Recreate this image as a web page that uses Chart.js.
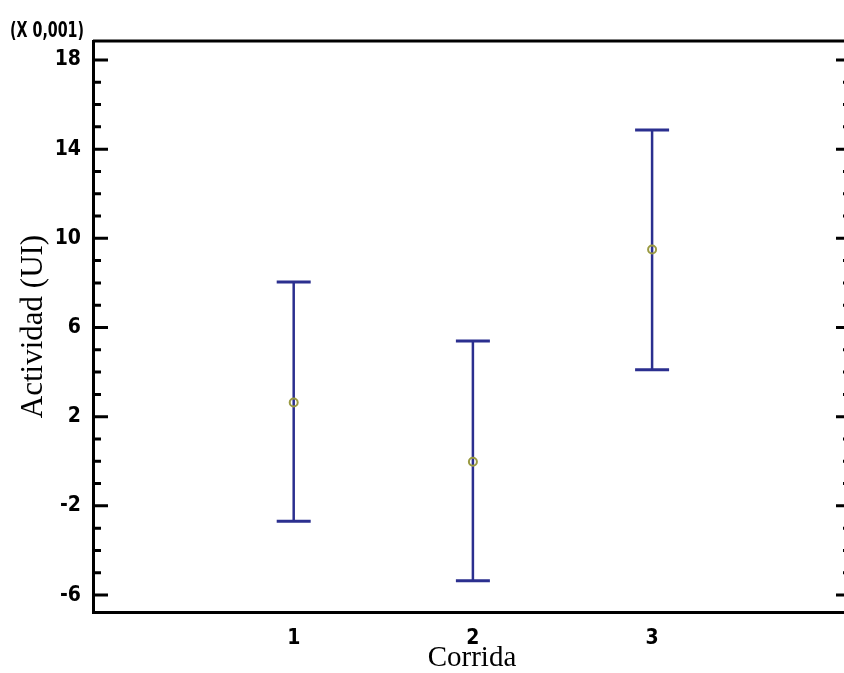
<!DOCTYPE html>
<html>
<head>
<meta charset="utf-8">
<script src="https://cdn.jsdelivr.net/npm/chart.js@4"></script>
<style>
  html, body { margin: 0; padding: 0; background: #fff; overflow: hidden; }
  #wrap { width: 860px; height: 673px; }
</style>
</head>
<body>
<div id="wrap"><canvas id="myChart" width="860" height="673"></canvas></div>
<script>
// data (units x 0,001)
const runs = [1, 2, 3];
const means = [2.64, -0.02, 9.5];
const lower = [-2.69, -5.36, 4.1];
const upper = [8.04, 5.4, 14.86];
const yMajorTicks = [-6, -2, 2, 6, 10, 14, 18];
const yMinorTicks = [-5, -4, -3, -1, 0, 1, 3, 4, 5, 7, 8, 9, 11, 12, 13, 15, 16, 17];

const ctx = document.getElementById("myChart");
const narrow = "'Liberation Sans Narrow', 'DejaVu Sans Condensed', Arial, sans-serif";
const serif = "'Liberation Serif', 'Times New Roman', serif";
const barColor = "#2b2f8f";

// error bars, tick marks, frame and the multiplier label
const extras = {
  id: "extras",
  beforeDatasetsDraw(chart) {
    const c = chart.ctx;
    const x = chart.scales.x;
    const y = chart.scales.y;
    c.save();
    c.strokeStyle = barColor;
    runs.forEach((r, i) => {
      const px = x.getPixelForValue(r);
      const top = y.getPixelForValue(upper[i]);
      const bot = y.getPixelForValue(lower[i]);
      c.lineWidth = 2.5;
      c.beginPath();
      c.moveTo(px, top);
      c.lineTo(px, bot);
      c.stroke();
      c.lineWidth = 3;
      c.beginPath();
      c.moveTo(px - 17, top);
      c.lineTo(px + 17, top);
      c.moveTo(px - 17, bot);
      c.lineTo(px + 17, bot);
      c.stroke();
    });
    c.restore();
  },
  afterDraw(chart) {
    const c = chart.ctx;
    const area = chart.chartArea;
    const y = chart.scales.y;
    c.save();
    c.strokeStyle = "#000";
    c.lineWidth = 3;
    // top and right frame
    c.beginPath();
    c.moveTo(area.left, area.top);
    c.lineTo(area.right, area.top);
    c.lineTo(area.right, area.bottom);
    c.stroke();
    // ticks on both sides, pointing in
    const drawTicks = (vals, len) => {
      vals.forEach((v) => {
        const py = y.getPixelForValue(v);
        c.beginPath();
        c.moveTo(area.left, py);
        c.lineTo(area.left + len, py);
        c.moveTo(area.right, py);
        c.lineTo(area.right - len, py);
        c.stroke();
      });
    };
    drawTicks(yMajorTicks, 15);
    drawTicks(yMinorTicks, 8);
    // multiplier label, squeezed like the narrow original
    c.fillStyle = "#000";
    c.font = "bold 22px " + narrow;
    c.textAlign = "left";
    c.textBaseline = "middle";
    c.translate(10, 31);
    c.scale(0.72, 1);
    c.fillText("(X 0,001)", 0, 0);
    c.restore();
  },
};

const myChart = new Chart(ctx, {
  type: "scatter",
  data: {
    datasets: [
      {
        label: "Media",
        data: runs.map((r, i) => ({ x: r, y: means[i] })),
        pointRadius: 4,
        pointBorderWidth: 2,
        borderColor: "#9a9a42",
        backgroundColor: "rgba(0,0,0,0)",
        clip: false,
      },
    ],
  },
  options: {
    responsive: false,
    animation: false,
    layout: { padding: { top: 41, right: 9, left: 0, bottom: 0 } },
    plugins: { legend: { display: false }, tooltip: { enabled: false } },
    scales: {
      x: {
        type: "linear",
        min: -0.12,
        max: 4.11,
        afterBuildTicks: (scale) => {
          scale.ticks = runs.map((v) => ({ value: v }));
        },
        afterFit: (scale) => {
          scale.height = 61;
        },
        grid: { display: false, drawTicks: false },
        border: { display: true, color: "#000", width: 3 },
        ticks: {
          padding: 14,
          color: "#000",
          font: { family: narrow, size: 21, weight: "bold" },
          callback: (v) => String(v),
        },
        title: {
          display: true,
          text: "Corrida",
          color: "#000",
          font: { family: serif, size: 29, lineHeight: 1 },
          padding: { top: 0, bottom: 0 },
        },
      },
      y: {
        min: -6.76,
        max: 18.85,
        afterBuildTicks: (scale) => {
          scale.ticks = yMajorTicks.map((v) => ({ value: v }));
        },
        afterFit: (scale) => {
          scale.width = 93;
        },
        grid: { display: false, drawTicks: false },
        border: { display: true, color: "#000", width: 3 },
        ticks: {
          padding: 12,
          color: "#000",
          font: { family: narrow, size: 21, weight: "bold" },
          callback: (v) => String(v),
        },
        title: {
          display: true,
          text: "Actividad (UI)",
          color: "#000",
          font: { family: serif, size: 31, lineHeight: 1.2 },
          padding: { top: 15, bottom: 0 },
        },
      },
    },
  },
  plugins: [extras],
});
</script>
</body>
</html>
